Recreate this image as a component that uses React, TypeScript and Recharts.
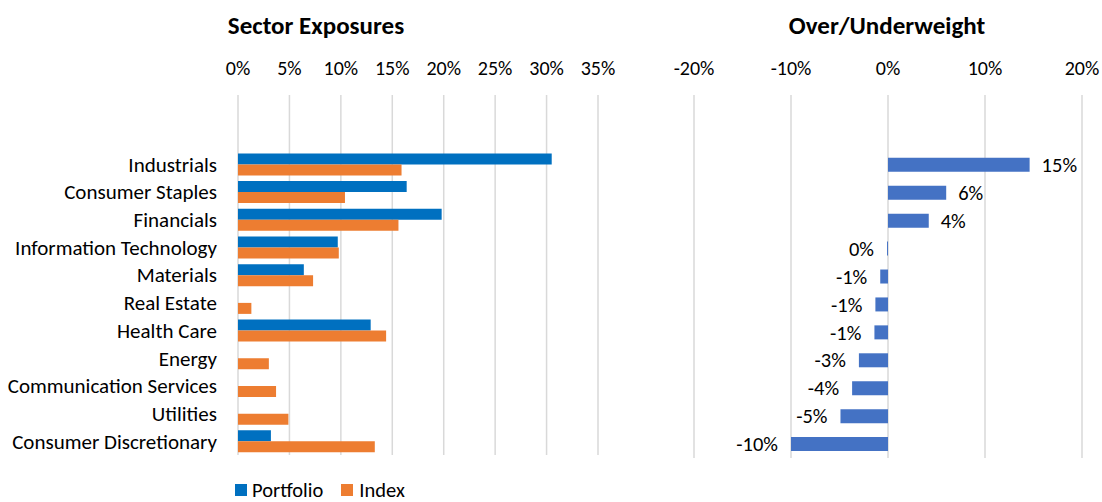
import React from 'react';
import { BarChart, Bar, XAxis, YAxis, CartesianGrid, LabelList } from 'recharts';

const sectors = [
  'Industrials',
  'Consumer Staples',
  'Financials',
  'Information Technology',
  'Materials',
  'Real Estate',
  'Health Care',
  'Energy',
  'Communication Services',
  'Utilities',
  'Consumer Discretionary',
];

// weights in %
const portfolio = [30.5, 16.4, 19.8, 9.7, 6.4, 0, 12.9, 0, 0, 0, 3.2];
const index = [15.9, 10.4, 15.6, 9.8, 7.3, 1.3, 14.4, 3.0, 3.7, 4.9, 13.3];
const overUnder = [14.6, 6.0, 4.2, -0.1, -0.8, -1.3, -1.4, -3.0, -3.7, -4.9, -10.0];

const exposureTicks = [0, 5, 10, 15, 20, 25, 30, 35];
const activeTicks = [-20, -10, 0, 10, 20];

const FONT = 'Carlito, Calibri, Lato, sans-serif';
const BLUE = '#0070C0';
const ORANGE = '#ED7D31';
const ACTIVE = '#4472C4';
const GRID = '#d9d9d9';

// two empty rows on top, like the blank rows in the source sheet
const pad = [{ name: '' }, { name: ' ' }];
const rows = [
  ...pad,
  ...sectors.map((name, i) => ({ name, portfolio: portfolio[i], index: index[i], active: overUnder[i] })),
];

const pct = (v: number) => `${Math.round(v) || 0}%`;

const ActiveLabel = (props: any) => {
  const { x, y, width, height, value } = props;
  if (value === undefined || value === null) return null;
  const left = Math.min(x, x + width);
  const right = Math.max(x, x + width);
  const pos = value >= 0;
  return (
    <text
      x={pos ? right + 12 : left - 13}
      y={y + height / 2}
      dy="0.35em"
      textAnchor={pos ? 'start' : 'end'}
      fontSize={20.5}
      fontFamily={FONT}
      fill="#000"
    >
      {pct(value)}
    </text>
  );
};

const tickStyle = { fontSize: 20, fontFamily: FONT, fill: '#000' };
const catStyle = { fontSize: 21, fontFamily: FONT, fill: '#000' };
const titleStyle: React.CSSProperties = {
  position: 'absolute',
  top: 11,
  transform: 'translateX(-50%)',
  fontSize: 25,
  fontWeight: 700,
  whiteSpace: 'nowrap',
  lineHeight: '30px',
};

const App = () => {
  return (
    <div style={{ position: 'absolute', left: 0, top: 0, width: 1102, height: 502, background: '#fff', overflow: 'hidden', fontFamily: FONT }}>
      <div style={{ ...titleStyle, left: 316 }}>Sector Exposures</div>
      <div style={{ ...titleStyle, left: 887 }}>Over/Underweight</div>

      <div style={{ position: 'absolute', left: 0, top: 0 }}>
        <BarChart
          width={640}
          height={502}
          data={rows}
          layout="vertical"
          margin={{ top: 0, right: 42, bottom: 47, left: 0 }}
          barCategoryGap="11%"
          barGap={0}
        >
          <CartesianGrid horizontal={false} stroke={GRID} strokeWidth={1.5} />
          <XAxis
            type="number"
            orientation="top"
            domain={[0, 35]}
            ticks={exposureTicks}
            tickFormatter={(v) => `${v}%`}
            axisLine={false}
            tickLine={false}
            tickSize={0}
            tickMargin={20}
            height={95}
            tick={tickStyle}
            interval={0}
          />
          <YAxis
            type="category"
            dataKey="name"
            width={238}
            axisLine={false}
            tickLine={false}
            tickSize={0}
            tickMargin={21}
            tick={catStyle}
            interval={0}
          />
          <Bar dataKey="portfolio" name="Portfolio" fill={BLUE} isAnimationActive={false} />
          <Bar dataKey="index" name="Index" fill={ORANGE} isAnimationActive={false} />
        </BarChart>
      </div>

      <div style={{ position: 'absolute', left: 640, top: 0 }}>
        <BarChart
          width={462}
          height={502}
          data={rows}
          layout="vertical"
          margin={{ top: 0, right: 20, bottom: 44, left: 54 }}
          barCategoryGap="25%"
        >
          <CartesianGrid horizontal={false} stroke={GRID} strokeWidth={1.5} />
          <XAxis
            type="number"
            orientation="top"
            domain={[-20, 20]}
            ticks={activeTicks}
            tickFormatter={(v) => `${v}%`}
            axisLine={false}
            tickLine={false}
            tickSize={0}
            tickMargin={20}
            height={95}
            tick={tickStyle}
            interval={0}
          />
          <YAxis type="category" dataKey="name" hide />
          <Bar dataKey="active" fill={ACTIVE} isAnimationActive={false}>
            <LabelList dataKey="active" content={ActiveLabel} />
          </Bar>
        </BarChart>
      </div>

      <div style={{ position: 'absolute', left: 235, top: 478, display: 'flex', alignItems: 'center', fontSize: 20.5, lineHeight: '24px', whiteSpace: 'nowrap' }}>
        <span style={{ display: 'inline-block', width: 12, height: 12, background: BLUE, marginRight: 5 }} />
        <span style={{ marginRight: 18 }}>Portfolio</span>
        <span style={{ display: 'inline-block', width: 12, height: 12, background: ORANGE, marginRight: 6 }} />
        <span>Index</span>
      </div>
    </div>
  );
};

export default App;
